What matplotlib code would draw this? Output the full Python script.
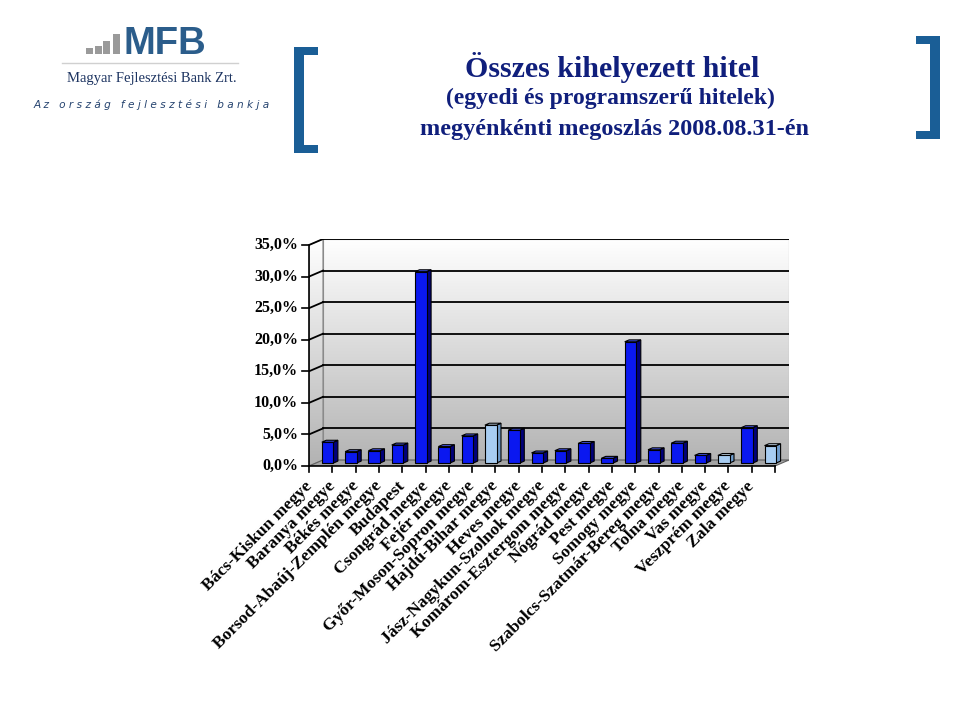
import numpy as np
import matplotlib
matplotlib.use("Agg")
import matplotlib.pyplot as plt
from matplotlib.patches import Polygon, Rectangle
from matplotlib.colors import LinearSegmentedColormap
from matplotlib.transforms import offset_copy

# adatok: megyénkénti megoszlás (%)
megyek = ["Bács-Kiskun megye", "Baranya megye", "Békés megye",
          "Borsod-Abaúj-Zemplén megye", "Budapest", "Csongrád megye",
          "Fejér megye", "Győr-Moson-Sopron megye", "Hajdú-Bihar megye",
          "Heves megye", "Jász-Nagykun-Szolnok megye", "Komárom-Esztergom megye",
          "Nógrád megye", "Pest megye", "Somogy megye",
          "Szabolcs-Szatmár-Bereg megye", "Tolna megye", "Vas megye",
          "Veszprém megye", "Zala megye"]
ertekek = [3.3, 1.8, 1.95, 2.85, 30.3, 2.6, 4.3, 6.0, 5.2, 1.6,
           1.95, 3.1, 0.75, 19.2, 2.1, 3.15, 1.2, 1.2, 5.6, 2.75]
vilagos = [7, 17, 19]   # világoskék oszlopok
y_ticks = [0, 5, 10, 15, 20, 25, 30, 35]

navy = "#101f7c"
serif = "Liberation Serif"

fig = plt.figure(figsize=(9.6, 7.2), dpi=100)

# háttér réteg pixel koordinátákkal (logó, címek, zárójelek)
bg = fig.add_axes([0, 0, 1, 1])
bg.set_xlim(0, 960)
bg.set_ylim(720, 0)
bg.axis("off")

# logó
for x0, h in [(86, 6), (95, 8), (103, 13), (113, 20)]:
    bg.add_patch(Rectangle((x0, 54 - h), 6.5, h, color="#9a9a9a", lw=0))
bg.text(124, 54, "MFB", fontsize=27.5, fontweight="bold", color="#2b5d8b",
        family="Liberation Sans", ha="left", va="baseline")
bg.plot([62, 238], [63, 63], color="#d0d0d0", lw=1)
bg.text(152, 82, "Magyar Fejlesztési Bank Zrt.", fontsize=10.5, color="#1d3461",
        family=serif, ha="center", va="baseline")
bg.text(152, 108, " ".join("Az ország fejlesztési bankja"), fontsize=7.6,
        color="#24426e", family="DejaVu Sans", style="italic",
        ha="center", va="baseline")

# zárójelek
bc = "#1a5e96"
bg.add_patch(Rectangle((294, 47), 10, 106, color=bc, lw=0))
bg.add_patch(Rectangle((294, 47), 24, 8, color=bc, lw=0))
bg.add_patch(Rectangle((294, 145), 24, 8, color=bc, lw=0))
bg.add_patch(Rectangle((930, 36), 10, 103, color=bc, lw=0))
bg.add_patch(Rectangle((916, 36), 24, 8, color=bc, lw=0))
bg.add_patch(Rectangle((916, 131), 24, 8, color=bc, lw=0))

# címek
bg.text(612, 77, "Összes kihelyezett hitel", fontsize=21.5, fontweight="bold",
        color=navy, family=serif, ha="center", va="baseline")
bg.text(610, 104, "(egyedi és programszerű hitelek)", fontsize=17,
        fontweight="bold", color=navy, family=serif, ha="center",
        va="baseline")
bg.text(614, 135, "megyénkénti megoszlás 2008.08.31-én", fontsize=17.5,
        fontweight="bold", color=navy, family=serif, ha="center",
        va="baseline")

# diagram (ál-3D)
n = len(megyek)
dx, dy = 0.6, 0.95          # fal mélysége adategységben
ux, uy = 23.3, 6.314        # pixel / adategység
ax = fig.add_axes([309 / 960, (720 - 466) / 720,
                   (n + dx) * ux / 960, (35 + dy) * uy / 720])
ax.set_xlim(0, n + dx)
ax.set_ylim(0, 35 + dy)
ax.axis("off")

cmap = LinearSegmentedColormap.from_list("fal", ["#b2b2b2", "#ffffff"])
grad = np.linspace(0, 1, 256).reshape(-1, 1)

back = Polygon([(dx, dy), (n + dx, dy), (n + dx, 35 + dy), (dx, 35 + dy)],
               closed=True, fc="none", ec="#8a8a8a", lw=0.8, zorder=2)
left = Polygon([(0, 0), (dx, dy), (dx, 35 + dy), (0, 35)],
               closed=True, fc="none", ec="#8a8a8a", lw=0.8, zorder=2)
for p in (back, left):
    ax.add_patch(p)
    im = ax.imshow(grad, extent=(0, n + dx, 0, 35 + dy), origin="lower",
                   cmap=cmap, aspect="auto", zorder=1)
    im.set_clip_path(p)

floor = Polygon([(0, 0), (n, 0), (n + dx, dy), (dx, dy)], closed=True,
                fc="#a4a4a4", ec="#606060", lw=0.8, zorder=2)
ax.add_patch(floor)

# rácsvonalak
for t in y_ticks[1:]:
    ax.plot([dx, n + dx], [t + dy, t + dy], color="black", lw=1.3, zorder=3)
    ax.plot([0, dx], [t, t + dy], color="black", lw=1.3, zorder=3)

# tengelyek
ax.plot([0, 0], [0, 35], color="black", lw=1.2, zorder=5, clip_on=False)
ax.plot([0, n], [0, 0], color="black", lw=1.2, zorder=5, clip_on=False)
for t in y_ticks:
    ax.plot([-7 / ux, 0], [t, t], color="black", lw=1.2, clip_on=False)
    ax.text(-11 / ux, t, f"{t:.1f}".replace(".", ",") + "%", ha="right",
            va="center", fontsize=11.5, fontweight="bold", family=serif)
for k in range(n + 1):
    ax.plot([k, k], [0, -6 / uy], color="black", lw=1.2, clip_on=False)

lab_tr = offset_copy(ax.transData, fig=fig, x=-17, y=-12, units="dots")
for i, nev in enumerate(megyek):
    ax.text(i + 0.5, 0, nev, transform=lab_tr, rotation=45,
            rotation_mode="anchor", ha="right", va="top", fontsize=12.6,
            fontweight="bold", family=serif)

# oszlopok
w = 0.5
bx, by = dx / 2, dy / 2
sx, sy = 0.19, 0.3
for i, v in enumerate(ertekek):
    if i in vilagos:
        front, side, top = "#a8cdf2", "#6f9ccc", "#d4e8fa"
    else:
        front, side, top = "#0a18f0", "#00007a", "#4a5cff"
    x0 = i + 0.5 - w / 2 + bx
    x1 = x0 + w
    y0, y1 = by, by + v
    ax.add_patch(Polygon([(x1, y0), (x1 + sx, y0 + sy), (x1 + sx, y1 + sy),
                          (x1, y1)], closed=True, fc=side, ec="black",
                         lw=0.8, zorder=6))
    ax.add_patch(Polygon([(x0, y1), (x1, y1), (x1 + sx, y1 + sy),
                          (x0 + sx, y1 + sy)], closed=True, fc=top,
                         ec="black", lw=0.8, zorder=6))
    ax.add_patch(Rectangle((x0, y0), w, v, fc=front, ec="black", lw=0.8,
                           zorder=7))

fig.savefig("out.png", dpi=100)
